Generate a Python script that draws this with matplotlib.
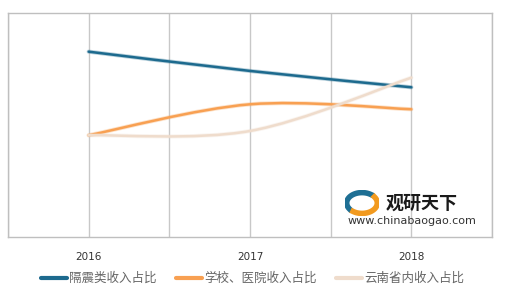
import numpy as np
import matplotlib
matplotlib.use('Agg')
import matplotlib.pyplot as plt
from matplotlib.path import Path
import matplotlib.patches as mpatches

plt.rcParams['font.family'] = ['Noto Sans CJK SC', 'DejaVu Sans']

# data (share of revenue)
years = ['2016', '2017', '2018']
isolation_share = [0.826, 0.740, 0.667]
school_hospital_share = [0.453, 0.591, 0.569]
yunnan_share = [0.453, 0.472, 0.710]

series_names = ['隔震类收入占比', '学校、医院收入占比', '云南省内收入占比']
series_colors = ['#1d6a8e', '#f8a052', '#efdccc']


def smooth_path(xs, ys):
    # excel style smoothed line: bezier through every point
    pts = np.column_stack([xs, ys]).astype(float)
    n = len(pts)
    verts = [pts[0]]
    codes = [Path.MOVETO]
    for i in range(n - 1):
        p_prev = pts[i - 1] if i > 0 else pts[i]
        p_next = pts[i + 2] if i + 2 < n else pts[i + 1]
        c1 = pts[i] + (pts[i + 1] - p_prev) / 6
        c2 = pts[i + 1] - (p_next - pts[i]) / 6
        verts += [c1, c2, pts[i + 1]]
        codes += [Path.CURVE4] * 3
    return Path(verts, codes)


fig = plt.figure(figsize=(5.2, 3.01), dpi=100)
ax = fig.add_axes([8 / 520, 1 - 236.7 / 301, 484 / 520, 224 / 301])

x = np.arange(len(years))
all_series = [isolation_share, school_hospital_share, yunnan_share]
for vals, col in zip(all_series, series_colors):
    p = smooth_path(x, vals)
    # soft halo then the line itself
    ax.add_patch(mpatches.PathPatch(p, facecolor='none', edgecolor=col,
                                    lw=3.0, alpha=0.3, capstyle='round'))
    ax.add_patch(mpatches.PathPatch(p, facecolor='none', edgecolor=col,
                                    lw=1.8, capstyle='round'))

ax.set_xlim(-0.5, 2.5)
ax.set_ylim(0, 1)
for gx in np.arange(-0.5, 2.51, 0.5):
    ax.axvline(gx, color='#c8c8c8', lw=1, zorder=0)
for s in ax.spines.values():
    s.set_color('#bfbfbf')
    s.set_linewidth(1)
ax.set_yticks([])
ax.set_xticks(x)
ax.set_xticklabels(years, fontsize=7.5, color='#333333', family='DejaVu Sans')
ax.tick_params(axis='x', length=0, pad=11)

# legend drawn by hand in figure coords
leg_y = 1 - 278 / 301
leg_items = [(41, 69), (176, 204), (336, 364)]
for (lx, tx), name, col in zip(leg_items, series_names, series_colors):
    fig.add_artist(plt.Line2D([lx / 520, (lx + 26) / 520], [leg_y, leg_y],
                              color=col, lw=3, solid_capstyle='round'))
    fig.text(tx / 520, leg_y, name, fontsize=9, color='#666666',
             va='center', ha='left')

# watermark
fig.text(386 / 520, 1 - 203 / 301, '观研天下', fontsize=13, fontweight='bold',
         color='#1a1a1a', va='center', ha='left')
fig.text(412 / 520, 1 - 221 / 301, 'www.chinabaogao.com', fontsize=8,
         color='#333333', va='center', ha='center', family='DejaVu Sans')
logo = fig.add_axes([345 / 520, 1 - 216 / 301, 34 / 520, 26 / 301])
logo.axis('off')
t = np.linspace(0.3 * np.pi, 1.2 * np.pi, 40)
logo.plot(0.5 + 0.45 * np.cos(t), 0.5 + 0.4 * np.sin(t), color='#1e6f94', lw=4)
t2 = np.linspace(1.3 * np.pi, 2.2 * np.pi, 40)
logo.plot(0.5 + 0.45 * np.cos(t2), 0.5 + 0.4 * np.sin(t2), color='#f29a1f', lw=4)
logo.set_xlim(0, 1)
logo.set_ylim(0, 1)

fig.savefig('out.png', dpi=100)
